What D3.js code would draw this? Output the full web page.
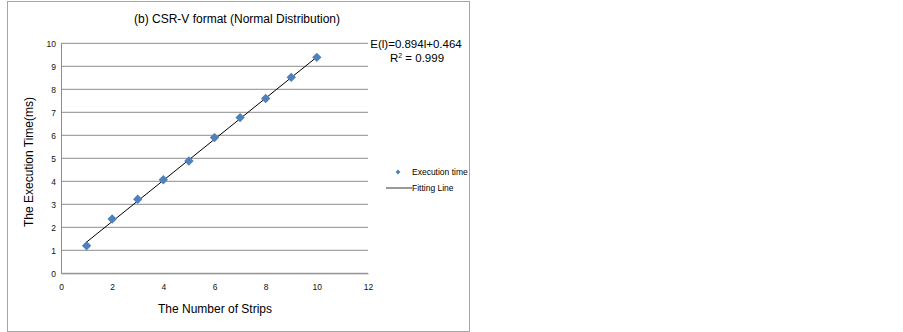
<!DOCTYPE html>
<html>
<head>
<meta charset="utf-8">
<script src="https://cdn.jsdelivr.net/npm/d3@7"></script>
<style>
  body { margin: 0; background: #fff; }
  svg text { font-family: "Liberation Sans", Arial, sans-serif; fill: #000; }
  .tick text { font-size: 8.5px; fill: #111; }
</style>
</head>
<body>
<div id="chart"></div>
<script>
const width = 903, height = 332;
const margin = { top: 43.3, left: 61, right: 535, bottom: 58.7 };

// data
const strips = [1, 2, 3, 4, 5, 6, 7, 8, 9, 10];
const execTimes = [1.2, 2.36, 3.22, 4.07, 4.88, 5.9, 6.77, 7.6, 8.52, 9.39];
const fitSlope = 0.894, fitIntercept = 0.464;
const xTicks = [0, 2, 4, 6, 8, 10, 12];
const yTicks = [0, 1, 2, 3, 4, 5, 6, 7, 8, 9, 10];

const graph_width = width - margin.left - margin.right;
const graph_height = height - margin.top - margin.bottom;

const xScale = d3.scaleLinear().domain([0, 12]).range([0, graph_width]);
const yScale = d3.scaleLinear().domain([0, 10]).range([graph_height, 0]);

const svg = d3.select('#chart').append('svg')
    .attr('width', width)
    .attr('height', height);

// outer chart border
svg.append('rect')
    .attr('x', 7.5).attr('y', 1.5)
    .attr('width', 462).attr('height', 330)
    .attr('fill', 'none')
    .attr('stroke', '#a6a6a6')
    .attr('stroke-width', 1);

const g = svg.append('g')
    .attr('transform', 'translate(' + margin.left + ',' + margin.top + ')');

// gridlines
g.append('g')
    .selectAll('line')
    .data(yTicks)
    .enter()
    .append('line')
    .attr('x1', 0).attr('x2', graph_width)
    .attr('y1', d => yScale(d)).attr('y2', d => yScale(d))
    .attr('stroke', '#8c8c8c')
    .attr('stroke-width', 1);

// axes
const yAxis = g.append('g')
    .call(d3.axisLeft(yScale).tickValues(yTicks).tickSize(0).tickPadding(5));
yAxis.select('.domain').attr('stroke', '#8c8c8c');

const xAxis = g.append('g')
    .attr('transform', 'translate(0,' + graph_height + ')')
    .call(d3.axisBottom(xScale).tickValues(xTicks).tickSize(0).tickPadding(11));
xAxis.select('.domain').attr('stroke', '#8c8c8c');

// fitting line
const line = d3.line()
    .x(d => xScale(d))
    .y(d => yScale(fitSlope * d + fitIntercept));
g.append('path')
    .datum([strips[0], strips[strips.length - 1]])
    .attr('d', line)
    .attr('fill', 'none')
    .attr('stroke', '#000')
    .attr('stroke-width', 1);

// points
const diamond = d3.symbol().type(d3.symbolSquare).size(44);
g.selectAll('.dot')
    .data(strips)
    .enter()
    .append('path')
    .attr('class', 'dot')
    .attr('d', diamond)
    .attr('transform', (d, i) => 'translate(' + xScale(d) + ',' + yScale(execTimes[i]) + ') rotate(45)')
    .attr('fill', '#4f81bd');

// title
svg.append('text')
    .attr('x', 237).attr('y', 22.5)
    .attr('text-anchor', 'middle')
    .style('font-size', '12px')
    .text('(b) CSR-V format (Normal Distribution)');

// axis labels
svg.append('text')
    .attr('x', 215).attr('y', 313)
    .attr('text-anchor', 'middle')
    .style('font-size', '12px')
    .text('The Number of Strips');

svg.append('text')
    .attr('transform', 'translate(33,162) rotate(-90)')
    .attr('text-anchor', 'middle')
    .style('font-size', '12px')
    .text('The Execution Time(ms)');

// equation
svg.append('text')
    .attr('x', 416).attr('y', 48)
    .attr('text-anchor', 'middle')
    .style('font-size', '11.5px')
    .text('E(l)=' + fitSlope + 'l+' + fitIntercept);
const r2 = svg.append('text')
    .attr('x', 417).attr('y', 61.5)
    .attr('text-anchor', 'middle')
    .style('font-size', '11.5px');
r2.append('tspan').text('R');
r2.append('tspan').attr('dy', -4).style('font-size', '7px').text('2');
r2.append('tspan').attr('dy', 4).text(' = 0.999');

// legend
const legend = svg.append('g');
legend.append('path')
    .attr('d', d3.symbol().type(d3.symbolSquare).size(12))
    .attr('transform', 'translate(398,172) rotate(45)')
    .attr('fill', '#4f81bd');
legend.append('text')
    .attr('x', 412).attr('y', 175)
    .style('font-size', '8.5px')
    .text('Execution time');
legend.append('line')
    .attr('x1', 386).attr('x2', 412)
    .attr('y1', 188).attr('y2', 188)
    .attr('stroke', '#555')
    .attr('stroke-width', 1.2);
legend.append('text')
    .attr('x', 412).attr('y', 191)
    .style('font-size', '8.5px')
    .text('Fitting Line');
</script>
</body>
</html>
